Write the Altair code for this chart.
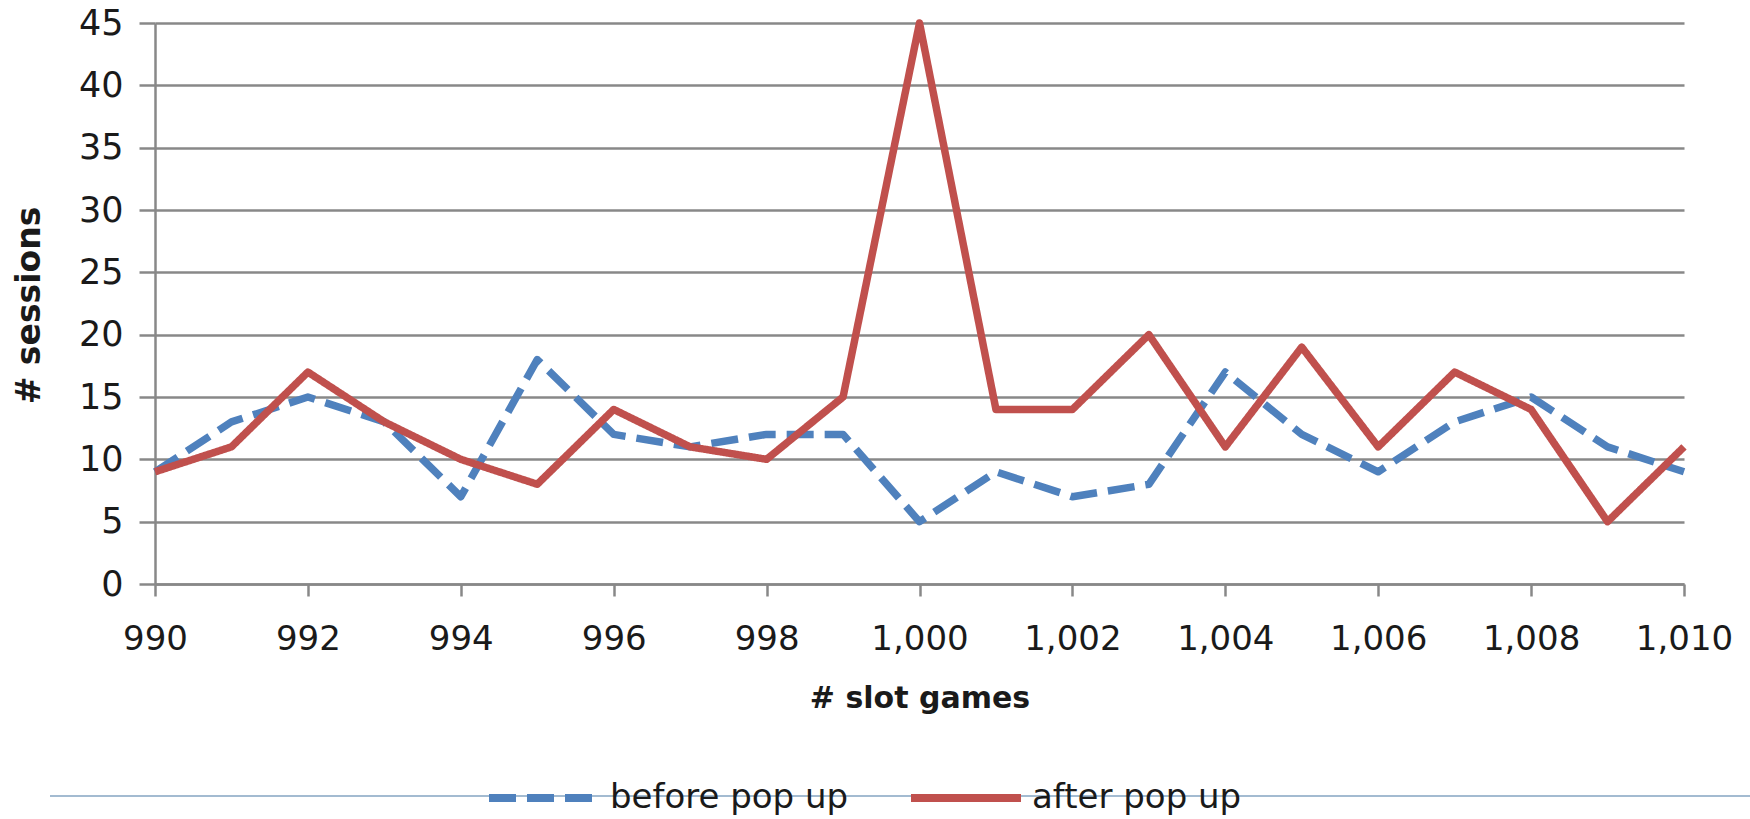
import altair as alt
import pandas as pd

# ---- data ----
slot_games = [990, 991, 992, 993, 994, 995, 996, 997, 998, 999, 1000,
              1001, 1002, 1003, 1004, 1005, 1006, 1007, 1008, 1009, 1010]
before_pop_up = [9, 13, 15, 13, 7, 18, 12, 11, 12, 12, 5,
                 9, 7, 8, 17, 12, 9, 13, 15, 11, 9]
after_pop_up = [9, 11, 17, 13, 10, 8, 14, 11, 10, 15, 45,
                14, 14, 20, 11, 19, 11, 17, 14, 5, 11]
series_names = ["before pop up", "after pop up"]
series_colors = ["#4F81BD", "#C0504D"]
x_ticks = [990, 992, 994, 996, 998, 1000, 1002, 1004, 1006, 1008, 1010]
y_ticks = [0, 5, 10, 15, 20, 25, 30, 35, 40, 45]

rows = []
for name, vals in zip(series_names, [before_pop_up, after_pop_up]):
    for g, v in zip(slot_games, vals):
        rows.append({"slot_games": g, "sessions": v, "series": name})
df = pd.DataFrame(rows)

FONT = "DejaVu Sans"
TXT = "#1a1a1a"
GRID = "#888888"
W, H = 1529, 561

legend = alt.Legend(
    title=None, orient="none", legendX=330, legendY=716,
    direction="horizontal", symbolType="stroke", symbolSize=12100,
    symbolStrokeWidth=8, labelFont=FONT, labelFontSize=34, labelColor=TXT,
    labelOffset=7, columnPadding=46, padding=0, labelLimit=0,
)

x = alt.X(
    "slot_games:Q",
    scale=alt.Scale(domain=[990, 1010], nice=False, zero=False),
    axis=alt.Axis(
        values=x_ticks, format=",d", title="# slot games", grid=False,
        tickSize=12, tickWidth=2.5, tickColor=GRID,
        domainColor=GRID, domainWidth=2.5,
        labelFont=FONT, labelFontSize=34, labelColor=TXT,
        labelPadding=53, labelBaseline="alphabetic",
        labelFlush=False, labelOverlap=False,
        titleFont=FONT, titleFontSize=30, titleFontWeight="bold",
        titleColor=TXT, titleX=W / 2, titleY=123, titleBaseline="alphabetic",
    ),
)
y = alt.Y(
    "sessions:Q",
    scale=alt.Scale(domain=[0, 45], nice=False),
    axis=alt.Axis(
        values=y_ticks, title="# sessions", grid=True,
        gridColor=GRID, gridWidth=2.5,
        tickSize=16, tickWidth=2.5, tickColor=GRID,
        domainColor=GRID, domainWidth=2.5,
        labelFont=FONT, labelFontSize=35, labelColor=TXT,
        labelPadding=16, labelBaseline="middle", labelFlush=False,
        labelOverlap=False,
        titleFont=FONT, titleFontSize=33, titleFontWeight="bold",
        titleColor=TXT, titleX=-126, titleY=282, titleAngle=270,
        titleBaseline="middle", titleAlign="center",
    ),
)
color = alt.Color("series:N",
                  scale=alt.Scale(domain=series_names, range=series_colors),
                  legend=legend)
dash = alt.StrokeDash("series:N",
                      scale=alt.Scale(domain=series_names, range=[[27, 11], [1, 0]]),
                      legend=legend)

base = alt.Chart(df)
before_layer = base.transform_filter(alt.datum.series == "before pop up").mark_line(
    strokeWidth=7.5, strokeCap="butt", strokeJoin="round"
).encode(x=x, y=y, color=color, strokeDash=dash)
after_layer = base.transform_filter(alt.datum.series == "after pop up").mark_line(
    strokeWidth=7.5, strokeCap="butt", strokeJoin="round"
).encode(x=x, y=y, color=color, strokeDash=dash)

legend_line = alt.Chart(pd.DataFrame({"k": [0]})).mark_rule(
    color="#A3BBD1", strokeWidth=2
).encode(x=alt.value(-105), x2=alt.value(1595), y=alt.value(773))

chart = alt.layer(legend_line, before_layer, after_layer).properties(
    width=W, height=H,
    autosize=alt.AutoSizeParams(type="none"),
    padding={"left": 155, "top": 23, "right": 66, "bottom": 235},
    background="white",
).configure_view(stroke=None)

chart.save("out.html", embed_options={"renderer": "svg", "actions": False})
